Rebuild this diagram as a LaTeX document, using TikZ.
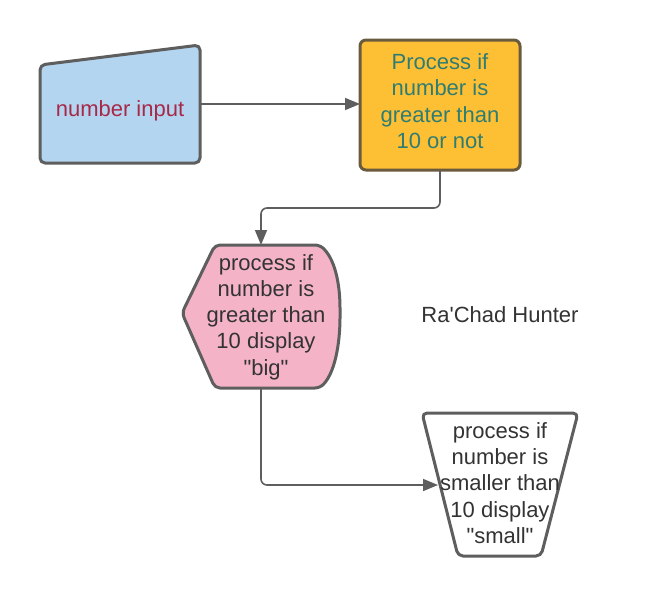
\documentclass[tikz,border=0pt]{standalone}
\usepackage{fontspec}
\setmainfont{Liberation Sans}[Ligatures=TeXOff]
\usetikzlibrary{arrows.meta}
\definecolor{edge}{HTML}{5E5E5E}
\definecolor{bluefill}{HTML}{B3D5F0}
\definecolor{yelfill}{HTML}{FDBF34}
\definecolor{yeledge}{HTML}{6B5B3E}
\definecolor{pinkfill}{HTML}{F4B3C7}
\definecolor{redtext}{HTML}{A82848}
\definecolor{tealtext}{HTML}{2F7D72}
\definecolor{darktext}{HTML}{333333}
\newcommand{\dq}{\symbol{34}}
\tikzset{
  shapeline/.style={draw=edge, line width=3pt, rounded corners=5pt, line join=round},
  conn/.style={draw=edge, line width=1.6pt, rounded corners=6pt, -{Triangle[length=15pt,width=12pt]}},
  lbl/.style={font=\fontsize{22}{26.3}\selectfont, align=center, inner sep=0pt},
}
\begin{document}
\begin{tikzpicture}[x=1pt,y=-1pt]
\useasboundingbox (0,0) rectangle (660,597);
\fill[white] (0,0) rectangle (660,597);
% manual input
\draw[shapeline, fill=bluefill] (40,65) -- (200,45) -- (200,163) -- (40,163) -- cycle;
\node[lbl, text=redtext] (inp) at (120,111) {number input};
\coordinate (inpR) at (200,104);
% process box
\draw[draw=yeledge, line width=3pt, rounded corners=6pt, fill=yelfill] (360,40) rectangle (520,170);
\node[lbl, text=tealtext] (proc) at (440,101) {Process if\\number is\\greater than\\10 or not};
\coordinate (procL) at (360,104);
\coordinate (procB) at (440,170);
% display shape
\draw[shapeline, fill=pinkfill] (182,313) -- (215,245) -- (320,245)
   .. controls (337,262) and (340,290) .. (340,313)
   .. controls (340,336) and (337,370) .. (320,388) -- (215,388) -- cycle;
\node[lbl, text=darktext] (big) at (266,317) {process if\\number is\\greater than\\10 display\\\dq big\dq};
\coordinate (bigT) at (261,245);
\coordinate (bigB) at (261,388);
% trapezoid
\draw[shapeline, fill=white] (422,413) -- (578,413) -- (541,556) -- (458,556) -- cycle;
\node[lbl, text=darktext] (small) at (500,483) {process if\\number is\\smaller than\\10 display\\\dq small\dq};
\coordinate (smallL) at (438,485);
% author
\node[lbl, text=darktext] (author) at (500,315) {Ra'Chad Hunter};
% connectors
\draw[conn] (inpR) -- (procL);
\draw[conn] (procB) -- (440,208) -- (261,208) -- (bigT);
\draw[conn] (bigB) -- (261,485) -- (smallL);
\end{tikzpicture}
\end{document}
